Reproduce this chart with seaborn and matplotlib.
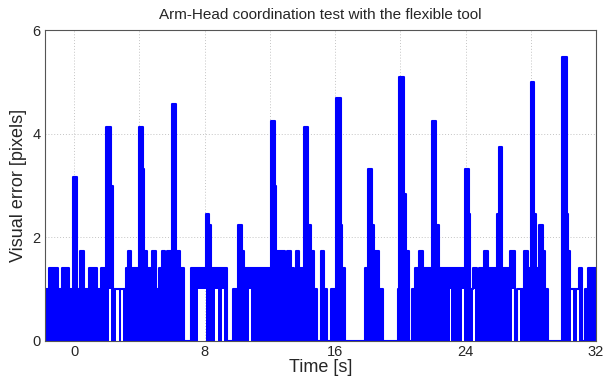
import numpy as np
import pandas as pd
import matplotlib
matplotlib.use("Agg")
import matplotlib.pyplot as plt
import seaborn as sns
from matplotlib.ticker import MultipleLocator

# ---- data: step envelope of the visual error signal ----
# start time of each segment [s] and upper level of the error [pixels]
seg_start = [-1.78, -1.52, -1.01, -0.75, -0.29, -0.05, 0.21, 0.36, 0.62, 0.93,
             1.38, 1.64, 1.99, 2.24, 2.36, 3.17, 3.28, 3.48, 3.99, 4.24,
             4.30, 4.50, 4.81, 5.01, 5.22, 5.38, 5.56, 5.73, 6.03, 6.28,
             6.48, 6.75, 7.15, 8.07, 8.28, 8.38, 9.40, 9.75, 10.04, 10.28,
             10.42, 12.05, 12.32, 12.37, 12.93, 13.07, 13.28, 13.47, 13.58, 13.79,
             14.10, 14.36, 14.50, 14.71, 14.91, 15.11, 15.31, 15.52, 15.73, 15.97,
             16.07, 16.35, 16.45, 16.61, 17.83, 18.05, 18.28, 18.41, 18.68, 18.93,
             19.88, 19.95, 20.21, 20.33, 20.51, 20.72, 20.90, 21.17, 21.38, 21.97,
             22.22, 22.39, 23.99, 24.24, 24.30, 24.44, 24.71, 24.85, 25.12, 25.36,
             25.93, 26.04, 26.24, 26.75, 27.02, 27.16, 27.59, 27.85, 28.00, 28.20,
             28.32, 28.52, 28.73, 28.87, 29.08, 29.90, 30.20, 30.30, 30.40, 30.94,
             31.16, 31.35, 31.52]
seg_upper = [1.00, 1.41, 1.00, 1.41, 1.00, 3.16, 1.00, 1.73, 1.00, 1.41,
             1.00, 1.41, 4.12, 3.00, 1.00, 1.41, 1.73, 1.41, 4.12, 3.32,
             1.73, 1.41, 1.73, 1.00, 1.41, 1.73, 1.41, 1.73, 4.58, 1.73,
             1.41, 0.00, 1.41, 2.45, 2.24, 1.41, 0.00, 1.00, 2.24, 1.73,
             1.41, 4.24, 3.00, 1.73, 1.41, 1.73, 1.41, 1.00, 1.73, 1.41,
             4.12, 2.24, 1.73, 1.00, 0.00, 1.73, 1.00, 0.00, 1.00, 0.00,
             4.69, 2.24, 1.41, 0.00, 1.41, 3.32, 2.24, 1.73, 1.00, 0.00,
             1.00, 5.10, 2.83, 1.73, 0.00, 1.00, 1.41, 1.73, 1.41, 4.24,
             2.24, 1.41, 3.32, 2.45, 1.00, 1.41, 1.00, 1.41, 1.73, 1.41,
             2.45, 3.74, 1.41, 1.73, 0.00, 1.00, 1.73, 1.41, 5.00, 2.45,
             1.41, 2.24, 1.73, 1.00, 0.00, 5.48, 2.45, 1.73, 1.00, 1.41,
             0.00, 1.00, 1.41]
t_end = 32.0

# intervals where the signal never drops below 1 pixel (lower envelope)
gap_start = [2.16, 2.60, 2.87, 7.59, 8.67, 9.08, 10.72, 23.04, 23.76, 24.44,
             26.85, 27.22, 30.46, 30.83]
gap_end = [2.24, 2.74, 2.99, 8.07, 8.83, 9.17, 10.84, 23.10, 23.88, 24.57,
           26.97, 27.34, 30.58, 30.96]
gap_level = [1.0] * len(gap_start)

# ---- build step arrays ----
bps = sorted(set(seg_start + gap_start + gap_end))
bps = [b for b in bps if b < t_end]
starts = np.array(seg_start)
ups = np.array(seg_upper)
up_vals, lo_vals = [], []
for b in bps:
    i = np.searchsorted(starts, b, side="right") - 1
    up = ups[i]
    lo = 0.0
    for gs, ge, gl in zip(gap_start, gap_end, gap_level):
        if gs <= b < ge:
            lo = min(gl, up)
    up_vals.append(up)
    lo_vals.append(lo)
x = np.array(bps + [t_end])
yu = np.array(up_vals + [up_vals[-1]])
yl = np.array(lo_vals + [lo_vals[-1]])
df = pd.DataFrame({"Time": x, "Error": yu})

# ---- plot ----
sns.set_style("white")
plt.rcParams["font.family"] = ["Liberation Sans", "DejaVu Sans"]

fig = plt.figure(figsize=(6.10, 3.79), dpi=100)
ax = fig.add_axes([45 / 610, 1 - 341 / 379, (596 - 45) / 610, (341 - 30) / 379])

ax.fill_between(x, yl, yu, step="post", color="#0000ff", linewidth=0)
sns.lineplot(data=df, x="Time", y="Error", ax=ax, color="#0000ff",
             drawstyle="steps-post", linewidth=1.5, estimator=None, sort=False)

ax.set_xlim(-1.78, 32)
ax.set_ylim(0, 6)
ax.xaxis.set_major_locator(MultipleLocator(8))
ax.xaxis.set_minor_locator(MultipleLocator(4))
ax.yaxis.set_major_locator(MultipleLocator(2))
grid_kw = dict(color="#c4c4c4", linestyle=(0, (1, 2)), linewidth=0.7)
ax.grid(True, which="both", axis="x", **grid_kw)
ax.grid(True, which="major", axis="y", **grid_kw)
ax.set_axisbelow(True)

ax.tick_params(axis="both", which="both", direction="in", labelsize=10.5,
               length=3, color="#444444", pad=3)
ax.tick_params(axis="x", which="minor", length=0)
for s in ax.spines.values():
    s.set_color("#555555")
    s.set_linewidth(0.8)

ax.set_title("Arm-Head coordination test with the flexible tool", fontsize=11, pad=8)
ax.set_xlabel("Time [s]", fontsize=13, labelpad=0)
ax.set_ylabel("Visual error [pixels]", fontsize=13, labelpad=4)

fig.savefig("out.png", dpi=100)
